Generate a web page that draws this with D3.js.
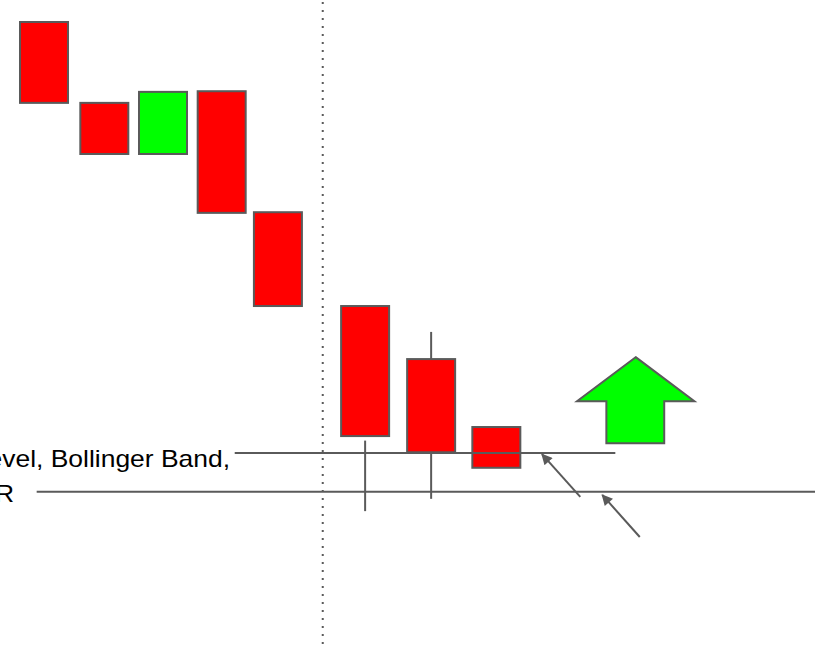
<!DOCTYPE html>
<html>
<head>
<meta charset="utf-8">
<script src="https://cdn.jsdelivr.net/npm/d3@7"></script>
<style>
  html, body { margin: 0; padding: 0; background: #fff; }
  svg { display: block; }
</style>
</head>
<body>
<div id="chart"></div>
<script>
// ---- data (time position, price units) ----
const candleT     = [5.4, 12.8, 20.0, 27.2, 34.1, 44.8, 52.9, 60.9];
const candleOpen  = [96.6, 84.1, 76.2, 85.9, 67.2, 52.7, 44.5, 34.0];
const candleClose = [84.1, 76.2, 85.8, 67.1, 52.7, 32.6, 30.1, 27.7];
const wickTop     = [null, null, null, null, null, 31.9, 48.7, null];
const wickBottom  = [null, null, null, null, null, 21.0, 22.9, null];

const levelNames  = ["Support Level, Bollinger Band,", "ATR"];
const levelValues = [30.0, 24.0];
const levelStart  = [28.8, 4.5];
const levelEnd    = [75.5, 100];

// pointer arrows: from (T, price) to (T, price)
const pointerFromT = [71.2, 78.5];
const pointerFromP = [23.2, 17.0];
const pointerToT   = [66.5, 73.9];
const pointerToP   = [29.8, 23.5];

// big up arrow outline
const upArrowT = [78.0, 85.2, 81.5, 81.5, 74.4, 74.4, 70.8];
const upArrowP = [44.8, 38.0, 38.0, 31.5, 31.5, 38.0, 38.0];

const dividerT = 39.6;

// ---- layout ----
const W = 815, H = 647;
const x = d3.scaleLinear().domain([0, 100]).range([0, W]);
const y = d3.scaleLinear().domain([0, 100]).range([H, 0]);
const candleW = 48;
const stroke = "#5a5a5a";

const svg = d3.select("#chart").append("svg")
  .attr("width", W).attr("height", H)
  .style("font-family", "'Liberation Sans', Arial, sans-serif");

svg.append("defs").append("marker")
  .attr("id", "head")
  .attr("viewBox", "0 0 10 10")
  .attr("refX", 9).attr("refY", 5)
  .attr("markerWidth", 6).attr("markerHeight", 5.5)
  .attr("markerUnits", "strokeWidth")
  .attr("orient", "auto")
  .append("path").attr("d", "M0,0 L10,5 L0,10 Z").attr("fill", stroke);

// dotted divider
svg.append("line")
  .attr("x1", x(dividerT)).attr("x2", x(dividerT))
  .attr("y1", 0).attr("y2", H)
  .attr("stroke", stroke).attr("stroke-width", 2)
  .attr("stroke-dasharray", "2 6")
  .attr("stroke-dashoffset", -2);

// level lines (ATR behind candles)
svg.append("line")
  .attr("x1", x(levelStart[1])).attr("x2", x(levelEnd[1]))
  .attr("y1", y(levelValues[1])).attr("y2", y(levelValues[1]))
  .attr("stroke", stroke).attr("stroke-width", 2);

// wicks
const idx = d3.range(candleT.length).filter(i => wickTop[i] !== null);
svg.selectAll("line.wick").data(idx).join("line")
  .attr("class", "wick")
  .attr("x1", i => x(candleT[i])).attr("x2", i => x(candleT[i]))
  .attr("y1", i => y(wickTop[i])).attr("y2", i => y(wickBottom[i]))
  .attr("stroke", stroke).attr("stroke-width", 2);

// candle bodies
svg.selectAll("rect.candle").data(d3.range(candleT.length)).join("rect")
  .attr("class", "candle")
  .attr("x", i => x(candleT[i]) - candleW / 2)
  .attr("width", candleW)
  .attr("y", i => y(Math.max(candleOpen[i], candleClose[i])))
  .attr("height", i => Math.abs(y(candleOpen[i]) - y(candleClose[i])))
  .attr("fill", i => candleClose[i] >= candleOpen[i] ? "#00ff00" : "#ff0000")
  .attr("stroke", stroke).attr("stroke-width", 2);

// support line passes over the candles
svg.append("line")
  .attr("x1", x(levelStart[0])).attr("x2", x(levelEnd[0]))
  .attr("y1", y(levelValues[0])).attr("y2", y(levelValues[0]))
  .attr("stroke", stroke).attr("stroke-width", 2);

// pointer arrows
svg.selectAll("line.pointer").data(pointerFromT).join("line")
  .attr("class", "pointer")
  .attr("x1", (d, i) => x(pointerFromT[i])).attr("y1", (d, i) => y(pointerFromP[i]))
  .attr("x2", (d, i) => x(pointerToT[i])).attr("y2", (d, i) => y(pointerToP[i]))
  .attr("stroke", stroke).attr("stroke-width", 2)
  .attr("marker-end", "url(#head)");

// up arrow
svg.append("path")
  .attr("d", d3.line().x((d, i) => x(upArrowT[i])).y((d, i) => y(upArrowP[i]))(upArrowT) + "Z")
  .attr("fill", "#00ff00")
  .attr("stroke", stroke).attr("stroke-width", 2)
  .attr("stroke-linejoin", "miter");

// labels (right-aligned, partly off the left edge, slightly stretched)
const labelEnd = [230, 14];
const labelBase = [467, 502];
svg.selectAll("text.label").data(levelNames).join("text")
  .attr("class", "label")
  .attr("transform", (d, i) => `translate(${labelEnd[i]},${labelBase[i]}) scale(1.15,1)`)
  .attr("text-anchor", "end")
  .attr("font-size", 23)
  .attr("fill", "#000")
  .text(d => d);
</script>
</body>
</html>
